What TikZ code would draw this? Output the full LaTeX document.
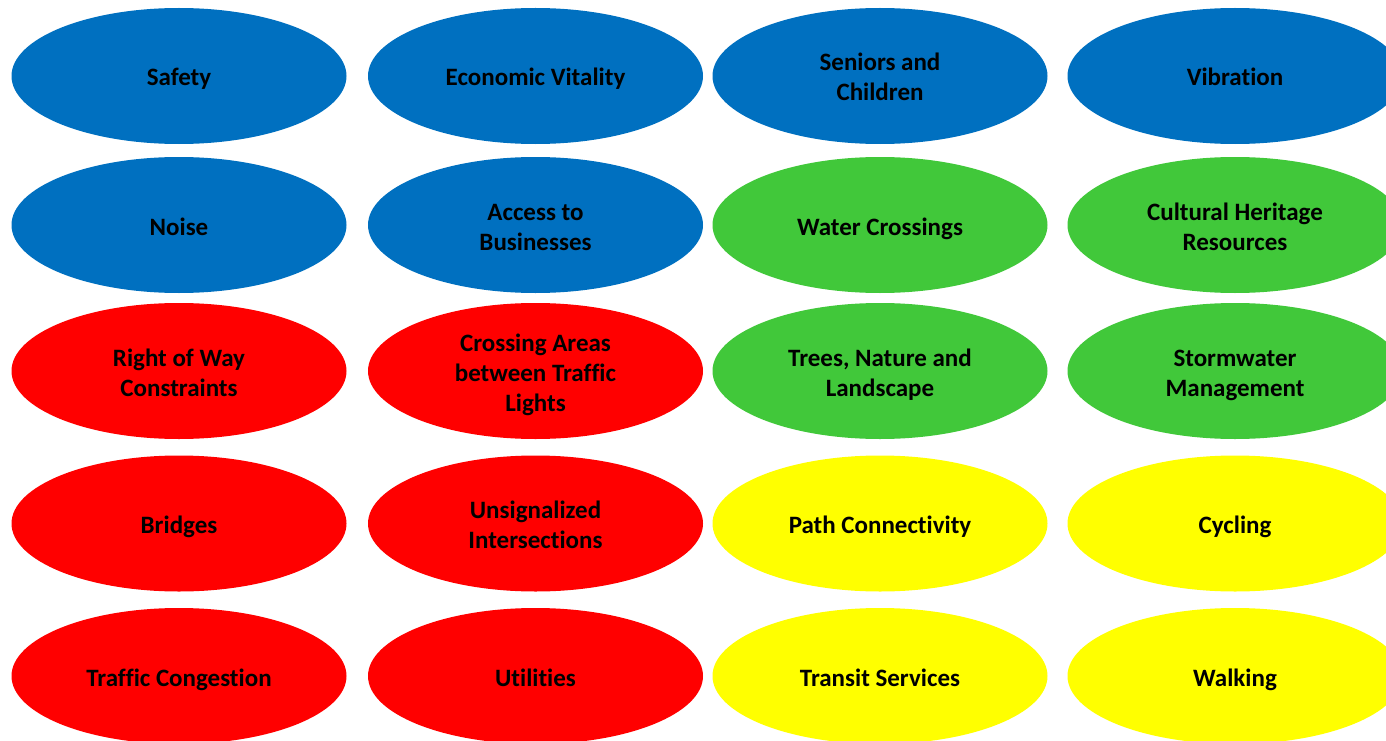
\documentclass[tikz,border=0pt]{standalone}
\usepackage{fontspec}
\setmainfont[Ligatures=NoCommon]{Carlito}
\usetikzlibrary{shapes.geometric}
\definecolor{cblue}{HTML}{0070C0}
\definecolor{cgreen}{HTML}{41C83A}
\definecolor{cred}{HTML}{FF0000}
\definecolor{cyellow}{HTML}{FFFF00}
\tikzset{
  oval/.style={ellipse, minimum width=335pt, minimum height=136pt, inner sep=0pt,
    align=center, font=\fontsize{25}{30}\selectfont\bfseries, text=black,
    text depth=12pt, text height=32pt},
  twolines/.style={text height=62pt},
  threelines/.style={text height=80pt, text depth=0pt},
  bluebox/.style={oval, fill=cblue},
  greenbox/.style={oval, fill=cgreen},
  redbox/.style={oval, fill=cred},
  yellowbox/.style={oval, fill=cyellow}
}
\begin{document}
\begin{tikzpicture}[x=1pt,y=-1pt]
\useasboundingbox (0,0) rectangle (1386,741);
\begin{scope}
\clip (0,0) rectangle (1386,741);
\node[bluebox] (safety) at (179,76) {Safety};
\node[bluebox] (econ) at (535.5,76) {Economic Vitality};
\node[bluebox, twolines] (seniors) at (880,76) {Seniors and\\Children};
\node[bluebox] (vib) at (1235,76) {Vibration};

\node[bluebox] (noise) at (179,225) {Noise};
\node[bluebox, twolines] (access) at (535.5,225) {Access to\\Businesses};
\node[greenbox] (water) at (880,225) {Water Crossings};
\node[greenbox, twolines] (heritage) at (1235,225) {Cultural Heritage\\Resources};

\node[redbox, twolines] (row) at (179,371) {Right of Way\\Constraints};
\node[redbox, threelines] (crossing) at (535.5,371) {Crossing Areas\\between Traffic\\Lights};
\node[greenbox, twolines] (trees) at (880,371) {Trees, Nature and\\Landscape};
\node[greenbox, twolines] (storm) at (1235,371) {Stormwater\\Management};

\node[redbox] (bridges) at (179,523.5) {Bridges};
\node[redbox, twolines] (unsig) at (535.5,523.5) {Unsignalized\\Intersections};
\node[yellowbox] (path) at (880,523.5) {Path Connectivity};
\node[yellowbox] (cycling) at (1235,523.5) {Cycling};

\node[redbox] (traffic) at (179,676) {Traffic Congestion};
\node[redbox] (util) at (535.5,676) {Utilities};
\node[yellowbox] (transit) at (880,676) {Transit Services};
\node[yellowbox] (walking) at (1235,676) {Walking};
\end{scope}
\end{tikzpicture}
\end{document}
